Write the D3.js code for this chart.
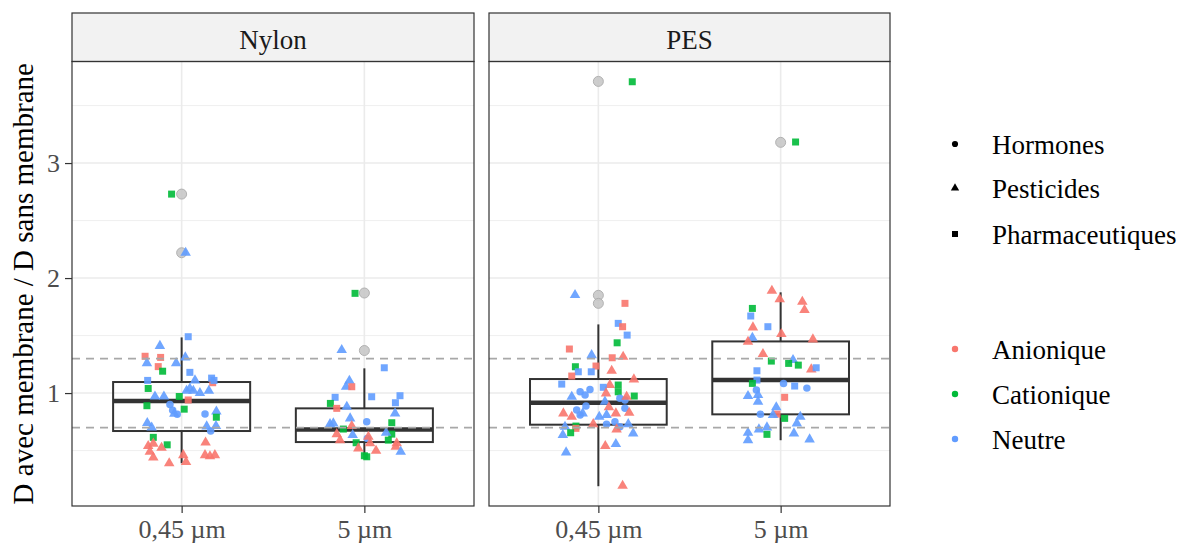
<!DOCTYPE html>
<html><head><meta charset="utf-8">
<script src="https://cdn.jsdelivr.net/npm/d3@7"></script>
<style>body{margin:0;background:#fff}svg{display:block}</style>
</head><body><svg id="c" width="1182" height="544"></svg>
<script>
const membranes = ["Nylon","PES"];
const pores = ["0,45 µm","5 µm"];
const classes = ["Hormones","Pesticides","Pharmaceutiques"];
const classCodes = ["H","P","M"];
const charges = ["Anionique","Cationique","Neutre"];
const chargeCodes = ["A","C","N"];
const chargeColors = ["#F8766D","#00BA38","#619CFF"];
const yTicks = [1,2,3];
const yMinor = [0.5,1.5,2.5,3.5];
const thresholds = [0.7,1.3];
const yTitle = "D avec membrane / D sans membrane";

// box statistics per group (membrane, pore)
const boxMembrane = ["Nylon","Nylon","PES","PES"];
const boxPore = ["0,45 µm","5 µm","0,45 µm","5 µm"];
const boxLow = [0.39,0.46,0.19,0.59];
const boxQ1 = [0.67,0.574,0.725,0.815];
const boxMedian = [0.93,0.684,0.916,1.113];
const boxQ3 = [1.096,0.867,1.122,1.449];
const boxHigh = [1.484,1.215,1.597,1.876];
const outlierGroup = [0,0,1,1,2,2,2,3];
const outlierValue = [2.73,2.22,1.87,1.37,3.71,1.85,1.78,3.18];

// points: [jitter (fraction of category step), value, class code, charge code]
const nylon045 = [[0.036,1.49,"M","N"],[-0.119,1.41,"P","N"],[-0.2,1.32,"M","A"],[-0.115,1.31,"M","A"],[-0.19,1.26,"P","N"],[0.02,1.31,"P","N"],[-0.03,1.26,"P","N"],[-0.128,1.23,"M","A"],[-0.104,1.19,"M","C"],[0.045,1.18,"M","N"],[0.073,1.11,"P","N"],[0.17,1.09,"M","A"],[0.164,1.13,"M","N"],[0.177,1.11,"M","N"],[-0.186,1.11,"M","N"],[-0.183,1.04,"M","C"],[0.045,1.04,"P","N"],[0.064,1.02,"P","N"],[0.1,1.0,"P","N"],[0.149,1.02,"P","N"],[0.027,1.02,"P","N"],[-0.013,0.97,"M","C"],[-0.146,0.97,"P","N"],[-0.097,0.97,"P","N"],[0.036,0.94,"M","A"],[-0.19,0.89,"M","C"],[-0.064,0.9,"H","N"],[-0.049,0.85,"H","N"],[-0.024,0.815,"H","N"],[-0.04,0.82,"P","N"],[0.014,0.86,"M","C"],[0.128,0.817,"H","N"],[0.19,0.84,"P","N"],[0.19,0.79,"M","C"],[-0.188,0.74,"P","N"],[-0.164,0.7,"P","N"],[0.137,0.71,"P","N"],[0.188,0.713,"P","N"],[0.159,0.67,"H","N"],[-0.155,0.615,"M","C"],[-0.079,0.55,"M","C"],[-0.183,0.54,"P","A"],[-0.155,0.56,"P","A"],[-0.174,0.49,"P","A"],[-0.11,0.524,"P","A"],[-0.155,0.44,"P","A"],[-0.068,0.39,"P","A"],[0.009,0.46,"P","A"],[0.024,0.40,"P","A"],[0.131,0.57,"P","A"],[0.128,0.46,"P","A"],[0.155,0.45,"P","A"],[0.182,0.46,"P","A"],[-0.055,2.73,"M","C"],[0.022,2.22,"P","N"]];
const nylon5 = [[-0.051,1.867,"M","C"],[-0.124,1.374,"P","N"],[0.109,1.22,"M","N"],[-0.082,1.107,"P","N"],[-0.1,1.055,"P","N"],[-0.069,1.055,"M","A"],[-0.16,0.963,"M","N"],[0.04,0.968,"M","N"],[0.195,0.977,"M","N"],[0.17,0.916,"M","N"],[-0.186,0.91,"M","C"],[-0.151,0.867,"M","A"],[-0.096,0.881,"P","N"],[0.168,0.823,"P","N"],[-0.078,0.78,"P","N"],[0.013,0.75,"H","N"],[0.15,0.742,"M","C"],[-0.188,0.73,"P","N"],[-0.17,0.736,"P","N"],[-0.115,0.687,"M","C"],[-0.069,0.713,"P","A"],[0.15,0.643,"M","C"],[0.119,0.655,"P","N"],[-0.151,0.643,"P","A"],[-0.133,0.59,"P","A"],[-0.064,0.635,"P","N"],[-0.045,0.568,"M","C"],[0.016,0.606,"H","N"],[0.022,0.62,"P","A"],[0.031,0.563,"P","A"],[0.131,0.591,"M","C"],[-0.033,0.519,"P","A"],[0.064,0.498,"P","A"],[0.177,0.563,"P","A"],[0.172,0.533,"P","A"],[0.199,0.49,"P","N"],[0.013,0.446,"M","C"],[0.0,0.455,"M","C"]];
const pes045 = [[-0.128,1.852,"P","N"],[0.146,1.78,"M","A"],[0.109,1.606,"M","N"],[0.133,1.577,"M","A"],[0.158,1.504,"M","N"],[0.103,1.437,"M","C"],[-0.159,1.383,"M","A"],[-0.037,1.33,"P","N"],[0.076,1.307,"M","A"],[0.136,1.316,"P","A"],[-0.126,1.229,"M","C"],[-0.11,1.185,"M","N"],[-0.013,1.235,"M","A"],[-0.039,1.185,"M","N"],[0.073,1.194,"P","A"],[-0.146,1.148,"M","A"],[0.195,1.119,"P","A"],[-0.201,1.078,"M","N"],[0.063,1.07,"P","A"],[0.109,1.07,"M","C"],[0.109,1.011,"M","C"],[0.027,1.05,"M","N"],[-0.046,1.032,"H","N"],[-0.073,0.983,"H","N"],[-0.1,1.011,"H","N"],[0.042,0.997,"P","A"],[0.197,0.974,"M","C"],[-0.146,0.968,"P","N"],[0.118,0.954,"H","N"],[0.146,0.939,"H","N"],[0.155,0.968,"P","A"],[0.036,0.925,"P","N"],[-0.068,0.887,"H","N"],[0.058,0.876,"P","A"],[-0.119,0.852,"H","N"],[0.146,0.867,"H","N"],[-0.192,0.823,"P","A"],[-0.086,0.823,"P","N"],[-0.146,0.794,"P","A"],[0.096,0.823,"P","A"],[0.169,0.829,"P","A"],[0.005,0.794,"P","N"],[0.045,0.809,"P","N"],[-0.1,0.809,"H","N"],[0.045,0.728,"H","N"],[0.091,0.751,"H","N"],[0.118,0.707,"H","N"],[0.164,0.73,"P","N"],[-0.028,0.73,"P","A"],[-0.123,0.713,"M","C"],[-0.123,0.693,"M","A"],[-0.183,0.707,"P","N"],[-0.195,0.635,"P","N"],[-0.152,0.655,"M","C"],[0.1,0.684,"P","A"],[0.191,0.649,"P","N"],[0.038,0.539,"P","A"],[0.096,0.557,"P","N"],[-0.177,0.484,"P","N"],[0.133,0.194,"P","A"],[0.186,3.707,"M","C"]];
const pes5 = [[-0.048,1.89,"P","A"],[-0.005,1.815,"P","A"],[0.119,1.794,"P","A"],[0.131,1.722,"P","A"],[-0.155,1.736,"M","C"],[-0.164,1.67,"M","N"],[-0.07,1.577,"M","N"],[-0.152,1.571,"P","A"],[0.004,1.513,"P","A"],[-0.155,1.481,"P","N"],[-0.179,1.446,"P","A"],[0.177,1.467,"P","A"],[-0.097,1.339,"P","A"],[-0.051,1.278,"M","C"],[0.068,1.287,"P","N"],[0.044,1.258,"M","C"],[0.097,1.243,"M","C"],[0.168,1.206,"P","A"],[0.195,1.22,"M","N"],[-0.13,1.194,"M","N"],[-0.13,1.113,"M","N"],[-0.155,1.084,"M","C"],[0.016,1.084,"H","N"],[0.077,1.061,"M","N"],[0.144,1.043,"H","N"],[-0.133,1.026,"H","N"],[-0.179,0.974,"P","N"],[-0.124,0.983,"P","N"],[-0.124,0.925,"P","N"],[0.022,0.963,"M","A"],[-0.024,0.876,"P","N"],[-0.111,0.815,"H","N"],[-0.02,0.817,"M","A"],[-0.042,0.809,"P","N"],[0.022,0.78,"M","C"],[0.108,0.794,"P","N"],[0.089,0.736,"P","N"],[-0.119,0.684,"P","N"],[-0.075,0.701,"P","N"],[-0.179,0.655,"P","N"],[-0.179,0.591,"P","N"],[-0.075,0.641,"M","C"],[0.073,0.649,"P","N"],[0.159,0.597,"P","N"],[0.082,3.183,"M","C"]];
const groupPoints = [nylon045, nylon5, pes045, pes5];

const FONT = "Liberation Serif";
const svg = d3.select("#c");
const panelTop = 61.5, panelBottom = 506, stripTop = 13;
const panelX = {Nylon:[72,474], PES:[489,890]};
const y = d3.scaleLinear().domain([0.018,3.883]).range([panelBottom,panelTop]);
const color = d3.scaleOrdinal().domain(chargeCodes).range(chargeColors);
const symType = d3.scaleOrdinal().domain(classCodes).range([d3.symbolCircle,d3.symbolTriangle,d3.symbolSquare]);
const symSize = d3.scaleOrdinal().domain(classCodes).range([44,48,49]);
const sym = c => d3.symbol().type(symType(c)).size(symSize(c))();

const xs = {};
membranes.forEach(m => {
  const [x0,x1] = panelX[m];
  const x = d3.scalePoint().domain(pores).range([x0,x1]).padding(0.6);
  xs[m] = x;
  const g = svg.append("g");
  g.append("rect").attr("x",x0).attr("y",panelTop).attr("width",x1-x0).attr("height",panelBottom-panelTop).attr("fill","#fff");
  g.selectAll(".mn").data(yMinor).join("line").attr("x1",x0).attr("x2",x1).attr("y1",d=>y(d)).attr("y2",d=>y(d)).attr("stroke","#EBEBEB").attr("stroke-width",0.8);
  g.selectAll(".mj").data(yTicks).join("line").attr("x1",x0).attr("x2",x1).attr("y1",d=>y(d)).attr("y2",d=>y(d)).attr("stroke","#EBEBEB").attr("stroke-width",1.6);
  g.selectAll(".vx").data(pores).join("line").attr("x1",d=>x(d)).attr("x2",d=>x(d)).attr("y1",panelTop).attr("y2",panelBottom).attr("stroke","#EBEBEB").attr("stroke-width",1.6);
  g.append("rect").attr("x",x0).attr("y",stripTop).attr("width",x1-x0).attr("height",panelTop-stripTop).attr("fill","#F2F2F2").attr("stroke","#333").attr("stroke-width",1.2);
  g.append("text").attr("x",(x0+x1)/2).attr("y",49).attr("text-anchor","middle").style("font-family",FONT).attr("font-size",27).attr("fill","#1A1A1A").text(m);
  const ax = svg.append("g").attr("transform",`translate(0,${panelBottom})`).call(d3.axisBottom(x).tickSize(7).tickPadding(7));
  ax.select(".domain").remove();
  ax.selectAll("line").attr("stroke","#333").attr("stroke-width",1.2);
  ax.selectAll("text").style("font-family",FONT).attr("font-size",26).attr("fill","#4D4D4D");
});

const ay = svg.append("g").attr("transform",`translate(${panelX.Nylon[0]},0)`).call(d3.axisLeft(y).tickValues(yTicks).tickFormat(d3.format("d")).tickSize(7).tickPadding(5));
ay.select(".domain").remove();
ay.selectAll("line").attr("stroke","#333").attr("stroke-width",1.2);
ay.selectAll("text").style("font-family",FONT).attr("font-size",26).attr("fill","#4D4D4D");
svg.append("text").attr("transform",`translate(33,${(panelTop+panelBottom)/2}) rotate(-90)`).attr("text-anchor","middle").style("font-family",FONT).attr("font-size",29).attr("fill","#000").text(yTitle);

const boxLayer = svg.append("g");
boxMembrane.forEach((m,i) => {
  const x = xs[m], cx = x(boxPore[i]), hw = x.step()*0.375;
  const g = boxLayer.append("g").attr("stroke","#333").attr("fill","none");
  g.append("line").attr("x1",cx).attr("x2",cx).attr("y1",y(boxHigh[i])).attr("y2",y(boxQ3[i])).attr("stroke-width",2);
  g.append("line").attr("x1",cx).attr("x2",cx).attr("y1",y(boxQ1[i])).attr("y2",y(boxLow[i])).attr("stroke-width",2);
  g.append("rect").attr("x",cx-hw).attr("width",2*hw).attr("y",y(boxQ3[i])).attr("height",y(boxQ1[i])-y(boxQ3[i])).attr("stroke-width",2);
  g.append("line").attr("x1",cx-hw).attr("x2",cx+hw).attr("y1",y(boxMedian[i])).attr("y2",y(boxMedian[i])).attr("stroke-width",4.5);
});
outlierGroup.forEach((gi,k) => {
  const x = xs[boxMembrane[gi]];
  boxLayer.append("circle").attr("cx",x(boxPore[gi])).attr("cy",y(outlierValue[k])).attr("r",5)
    .attr("fill","#C8C8C8").attr("stroke","#AAAAAA").attr("stroke-width",1).attr("opacity",0.9);
});

const ptLayer = svg.append("g");
groupPoints.forEach((pts,gi) => {
  const x = xs[boxMembrane[gi]], cx = x(boxPore[gi]), st = x.step();
  ptLayer.selectAll(null).data(pts).join("path")
    .attr("d",d=>sym(d[2]))
    .attr("transform",d=>`translate(${cx+d[0]*st},${y(d[1])})`)
    .attr("fill",d=>color(d[3])).attr("opacity",0.9);
});

membranes.forEach(m => {
  const [x0,x1] = panelX[m];
  svg.selectAll(null).data(thresholds).join("line").attr("x1",x0).attr("x2",x1).attr("y1",d=>y(d)).attr("y2",d=>y(d))
    .attr("stroke","#A8A8A8").attr("stroke-width",1.8).attr("stroke-dasharray","8,6");
  svg.append("rect").attr("x",x0).attr("y",panelTop).attr("width",x1-x0).attr("height",panelBottom-panelTop).attr("fill","none").attr("stroke","#333").attr("stroke-width",1.2);
});

const lg = svg.append("g");
const shapeY = [144,188,234];
const legSize = [30,30,36];
classes.forEach((c,i) => {
  lg.append("path").attr("d",d3.symbol().type(symType(classCodes[i])).size(legSize[i])()).attr("transform",`translate(955,${shapeY[i]})`).attr("fill","#000");
  lg.append("text").attr("x",992).attr("y",shapeY[i]+10).style("font-family",FONT).attr("font-size",27).attr("fill","#000").text(c);
});
const colY = [349,394,439];
charges.forEach((c,i) => {
  lg.append("circle").attr("cx",955).attr("cy",colY[i]).attr("r",3.2).attr("fill",chargeColors[i]);
  lg.append("text").attr("x",992).attr("y",colY[i]+10).style("font-family",FONT).attr("font-size",27).attr("fill","#000").text(c);
});
</script></body></html>
